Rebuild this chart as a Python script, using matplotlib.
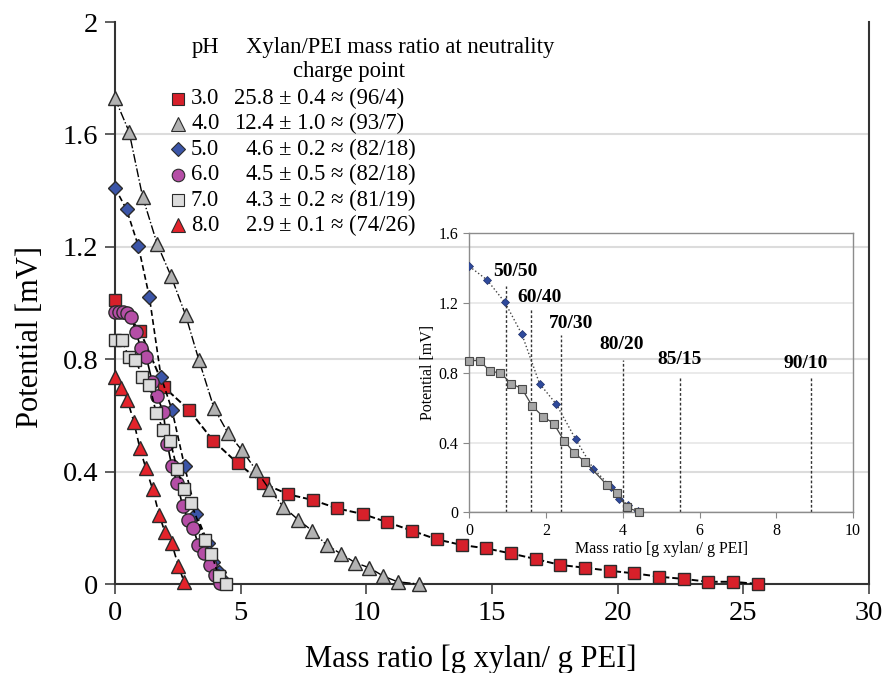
import matplotlib
matplotlib.use("Agg")
from matplotlib import pyplot as plt
from matplotlib.lines import Line2D

plt.rcParams['font.family'] = ['Liberation Serif', 'DejaVu Serif']

# pH 3.0 - red squares
x_ph3 = [0, 1.0, 1.96, 2.94, 3.91, 4.88, 5.90, 6.90, 7.87, 8.85, 9.86, 10.84, 11.81, 12.80,
         13.80, 14.76, 15.75, 16.74, 17.71, 18.70, 19.70, 20.66, 21.66, 22.65, 23.61, 24.60, 25.60]
y_ph3 = [1.01, 0.90, 0.70, 0.62, 0.51, 0.43, 0.358, 0.319, 0.299, 0.269, 0.249, 0.220, 0.190, 0.159,
         0.139, 0.127, 0.109, 0.089, 0.068, 0.058, 0.047, 0.038, 0.026, 0.018, 0.008, 0.008, 0.0]

# pH 4.0 - gray triangles
x_ph4 = [0, 0.56, 1.10, 1.68, 2.23, 2.81, 3.34, 3.94, 4.50, 5.04, 5.61, 6.14, 6.70, 7.30,
         7.84, 8.42, 9.00, 9.56, 10.12, 10.68, 11.25, 12.08]
y_ph4 = [1.728, 1.61, 1.378, 1.21, 1.096, 0.957, 0.797, 0.626, 0.537, 0.477, 0.406, 0.337, 0.275, 0.228,
         0.190, 0.139, 0.107, 0.076, 0.058, 0.028, 0.008, 0.0]

# pH 5.0 - blue diamonds
x_ph5 = [0, 0.46, 0.93, 1.37, 1.83, 2.27, 2.77, 3.23, 3.69, 3.91, 4.14, 4.39]
y_ph5 = [1.41, 1.333, 1.203, 1.021, 0.738, 0.619, 0.419, 0.250, 0.147, 0.078, 0.042, 0.008]

# pH 6.0 - pink circles
x_ph6 = [0, 0.17, 0.33, 0.48, 0.65, 0.83, 1.03, 1.25, 1.48, 1.68, 1.92, 2.08, 2.26, 2.48,
         2.69, 2.92, 3.12, 3.32, 3.54, 3.78, 3.98, 4.18]
y_ph6 = [0.969, 0.969, 0.969, 0.966, 0.951, 0.898, 0.839, 0.807, 0.72, 0.669, 0.612, 0.50, 0.42, 0.358,
         0.278, 0.228, 0.198, 0.139, 0.109, 0.068, 0.032, 0.002]

# pH 7.0 - light gray squares
x_ph7 = [0, 0.27, 0.54, 0.81, 1.09, 1.37, 1.64, 1.92, 2.20, 2.47, 2.74, 3.02, 3.58, 3.84, 4.12, 4.41]
y_ph7 = [0.870, 0.870, 0.809, 0.799, 0.738, 0.709, 0.609, 0.549, 0.509, 0.410, 0.339, 0.289, 0.158, 0.108, 0.029, 0.001]

# pH 8.0 - red triangles
x_ph8 = [0, 0.23, 0.49, 0.75, 0.99, 1.23, 1.50, 1.76, 1.99, 2.26, 2.52, 2.75]
y_ph8 = [0.735, 0.696, 0.656, 0.578, 0.483, 0.412, 0.337, 0.246, 0.184, 0.145, 0.065, 0.008]

ph_labels = ["3.0", "4.0", "5.0", "6.0", "7.0", "8.0"]
ratio_mean = ["25.8", "12.4", "4.6", "4.5", "4.3", "2.9"]
ratio_err = ["0.4", "1.0", "0.2", "0.5", "0.2", "0.1"]
ratio_frac = ["96/4", "93/7", "82/18", "82/18", "81/19", "74/26"]

# inset reference lines
ref_labels = ["50/50", "60/40", "70/30", "80/20", "85/15", "90/10"]
ref_x = [0.96, 1.61, 2.39, 4.01, 5.49, 8.91]
ref_top = [1.30, 1.165, 1.017, 0.874, 0.784, 0.784]
ref_lab_x = [1.19, 1.84, 2.64, 3.97, 5.49, 8.77]
ref_lab_y = [1.38, 1.233, 1.084, 0.965, 0.874, 0.855]

edge = "#2b2b2b"
series = [
    (x_ph3, y_ph3, dict(marker="s", ms=9, mfc="#d7202a", ls=(0, (3.5, 1.5)), lw=1.4)),
    (x_ph4, y_ph4, dict(marker="^", ms=10.5, mfc="#b2b2b2", ls="-.", lw=1.0)),
    (x_ph5, y_ph5, dict(marker="D", ms=7, mfc="#3b55a8", ls=(0, (3.5, 2)), lw=1.2)),
    (x_ph6, y_ph6, dict(marker="o", ms=9.5, mfc="#b54ea6", ls="-", lw=1.2)),
    (x_ph7, y_ph7, dict(marker="s", ms=9, mfc="#dcdcdc", ls=(0, (3.5, 2)), lw=1.2)),
    (x_ph8, y_ph8, dict(marker="^", ms=10, mfc="#e4232b", ls=(0, (4, 2.5)), lw=1.2)),
]

fig = plt.figure(figsize=(8.83, 6.73), dpi=100)
ax = fig.add_axes([0.1302, 0.1322, 0.8539, 0.8351])

for xs, ys, st in series:
    ax.plot(xs, ys, color="black", mec=edge, mew=1.0, clip_on=False, zorder=3, **st)

ax.set_xlim(0, 30)
ax.set_ylim(0, 2)
ax.set_xticks(range(0, 31, 5))
ax.set_yticks([0, 0.4, 0.8, 1.2, 1.6, 2.0])
ax.set_yticklabels(["0", "0.4", "0.8", "1.2", "1.6", "2"])
ax.yaxis.grid(True, color="#dcdcdc", lw=1.5)
ax.yaxis.get_gridlines()[-1].set_visible(False)
ax.tick_params(labelsize=20.5, direction="out", length=7, width=1.2, color="#444444", pad=5)
ax.spines["top"].set_visible(False)
for s in ["left", "bottom", "right"]:
    ax.spines[s].set_color("#333333")
    ax.spines[s].set_linewidth(1.5)
ax.set_xlabel("Mass ratio [g xylan/ g PEI]", fontsize=22)
ax.set_ylabel("Potential [mV]", fontsize=22)
ax.xaxis.set_label_coords(0.472, -0.108)
ax.yaxis.set_label_coords(-0.093, 0.44)

# legend drawn as a small table
W, H = 883.0, 673.0
fs = 16.3
fig.text(205 / W, 1 - 47 / H, "pH", fontsize=fs, ha="center", va="center")
fig.text(400 / W, 1 - 47 / H, "Xylan/PEI mass ratio at neutrality", fontsize=fs, ha="center", va="center")
fig.text(349 / W, 1 - 72 / H, "charge point", fontsize=fs, ha="center", va="center")
for i, (xs, ys, st) in enumerate(series):
    yy = 1 - (98.5 + 25.4 * i) / H
    fig.add_artist(Line2D([178 / W], [yy], marker=st["marker"], ms=st["ms"] * 0.95,
                          mfc=st["mfc"], mec=edge, mew=0.8, ls="none"))
    fig.text(191 / W, yy, ph_labels[i], fontsize=fs, ha="left", va="center")
    fig.text(274 / W, yy, ratio_mean[i], fontsize=fs, ha="right", va="center")
    fig.text(279 / W, yy, "\u00b1 " + ratio_err[i] + " \u2248 (" + ratio_frac[i] + ")",
             fontsize=fs, ha="left", va="center")

# inset
ax_in = fig.add_axes([0.5315, 0.2388, 0.4346, 0.4146])
ax_in.set_facecolor("none")
ax_in.plot(x_ph5, y_ph5, color="#444444", ls=":", lw=1.0, marker="D", ms=4,
           mfc="#2f4a9c", mec="#1e2f6b", mew=0.5, zorder=3)
ax_in.plot(x_ph7, y_ph7, color="#444444", ls="-", lw=0.9, marker="s", ms=6,
           mfc="#a6a6a6", mec="#4a4a4a", mew=0.8, zorder=3, clip_on=False)
ax_in.vlines(ref_x, 0, ref_top, colors="#333333", linestyles=(0, (2, 1.5)), lw=1.0)
for lab, lx, ly in zip(ref_labels, ref_lab_x, ref_lab_y):
    ax_in.text(lx, ly, lab, fontsize=14, fontweight="bold", ha="center", va="center")
ax_in.set_xlim(0, 10)
ax_in.set_ylim(0, 1.6)
ax_in.set_xticks(range(0, 11, 2))
ax_in.set_yticks([0, 0.4, 0.8, 1.2, 1.6])
ax_in.set_yticklabels(["0", "0.4", "0.8", "1.2", "1.6"])
ax_in.yaxis.grid(True, color="#e6e6e6", lw=1.2)
ax_in.tick_params(labelsize=11.5, direction="out", length=4, width=0.8, color="#888888", pad=4)
for s in ax_in.spines.values():
    s.set_color("#8c8c8c")
    s.set_linewidth(1.0)
ax_in.set_xlabel("Mass ratio [g xylan/ g PEI]", fontsize=11.5, labelpad=1)
ax_in.set_ylabel("Potential [mV]", fontsize=11.5, labelpad=2)

fig.savefig("out.png", dpi=100)
